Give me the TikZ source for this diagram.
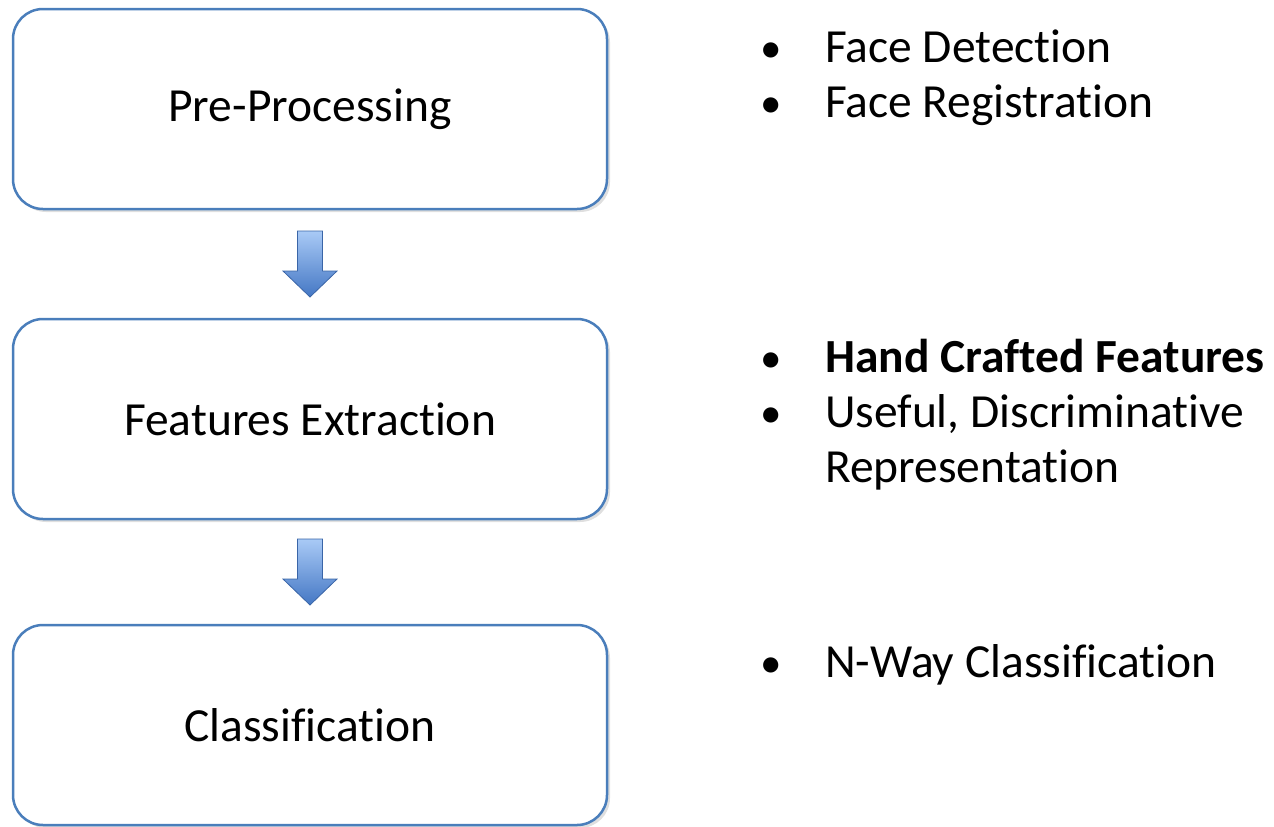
\documentclass[tikz,border=0pt]{standalone}
\usepackage{fontspec}
\setmainfont{Carlito}[Ligatures=NoCommon]
\usetikzlibrary{positioning,calc,shadows}
\definecolor{boxblue}{HTML}{4A7EBB}
\definecolor{arrtop}{HTML}{A9CAF6}
\definecolor{arrbot}{HTML}{4477C4}
\tikzset{
  stage/.style ={rectangle, rounded corners=30pt, draw=boxblue, line width=2.5pt,
                 fill=white, minimum width=594pt, minimum height=200pt,
                 font=\fontsize{47.5}{55}\selectfont,
                 drop shadow={shadow xshift=3pt, shadow yshift=-3pt,
                              opacity=0.25, fill=black!50}},
  point/.style ={anchor=base west, inner sep=0pt, font=\fontsize{47.5}{55}\selectfont},
  % block arrow between two stages, light on top, darker at the tip
  flow/.style  ={draw=arrbot!85!black, line width=0.8pt,
                 top color=arrtop, bottom color=arrbot},
}
\newcommand{\bul}{\llap{{\fontsize{43}{43}\selectfont\textbullet}\hspace{43pt}}}
\newcommand{\blockarrow}[2]{%
  \coordinate (#1#2) at ($(#1.south)!0.5!(#2.north)$);
  \draw[flow] ($(#1#2)+(-12.5,33)$) -- ($(#1#2)+(12.5,33)$)
    -- ($(#1#2)+(12.5,-7)$) -- ($(#1#2)+(27,-7)$) -- ($(#1#2)+(0,-33)$)
    -- ($(#1#2)+(-27,-7)$) -- ($(#1#2)+(-12.5,-7)$) -- cycle;}
\def\stagelist{pre/109/Pre-Processing, feat/419/Features Extraction,
               cls/725/Classification}
\def\pointlist{fd/62/1/Face Detection, fr/117/1/Face Registration,
  hc/372/1/\textbf{Hand Crafted Features}, ud/427/1/{Useful, Discriminative},
  rep/482/0/Representation, nw/677/1/N-Way Classification}

\begin{document}
\begin{tikzpicture}[x=1pt,y=1pt]
\useasboundingbox (0,0) rectangle (1274,-827);
\foreach \n/\y/\t in \stagelist {\node[stage] (\n) at (310,-\y) {\t};}
\blockarrow{pre}{feat}
\blockarrow{feat}{cls}
\foreach \n/\y/\b/\t in \pointlist
  {\node[point] (\n) at (825,-\y) {\ifnum\b=1 \bul\fi\t};}
\end{tikzpicture}
\end{document}
